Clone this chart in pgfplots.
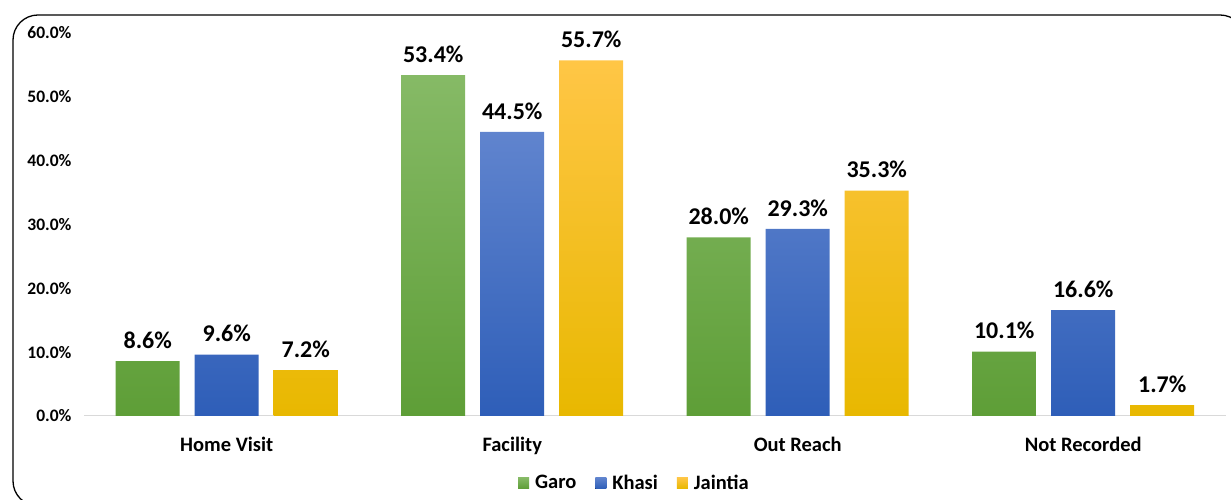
\documentclass[border=0pt]{standalone}
\usepackage{fontspec}
\setmainfont{Carlito}
\usepackage{pgfplots}
\pgfplotsset{compat=1.18}
\definecolor{gtop}{HTML}{86BA66}
\definecolor{gmid}{HTML}{70AD47}
\definecolor{gbot}{HTML}{5E9E37}
\definecolor{btop}{HTML}{6084CE}
\definecolor{bmid}{HTML}{4472C4}
\definecolor{bbot}{HTML}{2E5EB8}
\definecolor{ytop}{HTML}{FFC646}
\definecolor{ymid}{HTML}{FFC600}
\definecolor{ybot}{HTML}{E8B800}
\begin{document}
\begin{tikzpicture}[x=1pt,y=1pt]
\useasboundingbox (0,0) rectangle (1231,500);
\draw[line width=1.3pt, rounded corners=25pt] (13,485) rectangle (1245,-6);
\begin{axis}[
  at={(84pt,84pt)}, anchor=south west,
  scale only axis, width=1142pt, height=383pt,
  xmin=-0.5, xmax=3.5, ymin=0, ymax=60,
  ybar=15pt, bar width=64pt,
  xtick={0,1,2,3},
  xticklabels={Home Visit, Facility, Out Reach, Not Recorded},
  ytick={0,10,20,30,40,50,60},
  yticklabel={\pgfmathprintnumber[fixed,fixed zerofill,precision=1]{\tick}\%},
  /pgf/number format/assume math mode=true,
  major tick length=0pt,
  separate axis lines,
  axis x line*=bottom, axis y line*=left,
  x axis line style={draw=black!15, line width=1pt, -},
  y axis line style={draw=none},
  yticklabel style={font=\fontsize{17.5}{20}\selectfont\bfseries, xshift=-9pt},
  xticklabel style={font=\fontsize{20.5}{24}\selectfont\bfseries, yshift=-18pt},
  nodes near coords={\pgfmathprintnumber[fixed,fixed zerofill,precision=1]{\pgfplotspointmeta}\%},
  every node near coord/.append style={font=\fontsize{24}{28}\selectfont\bfseries, black, yshift=9pt},
  legend style={at={(0.482,-0.175)}, anchor=center, draw=none, font=\fontsize{20.5}{24}\selectfont\bfseries, legend columns=3,
    /tikz/every odd column/.append style={column sep=4pt},
    /tikz/every even column/.append style={column sep=17pt}},
  legend image code/.code={\fill[#1] (0pt,-5.5pt) rectangle (11pt,5.5pt);},
]
\addplot[draw=none, top color=gtop, middle color=gmid, bottom color=gbot] coordinates {(0,8.6) (1,53.4) (2,28.0) (3,10.1)};
\addplot[draw=none, top color=btop, middle color=bmid, bottom color=bbot] coordinates {(0,9.6) (1,44.5) (2,29.3) (3,16.6)};
\addplot[draw=none, top color=ytop, middle color=ymid, bottom color=ybot] coordinates {(0,7.2) (1,55.7) (2,35.3) (3,1.7)};
\legend{Garo, Khasi, Jaintia}
\end{axis}
\end{tikzpicture}
\end{document}
